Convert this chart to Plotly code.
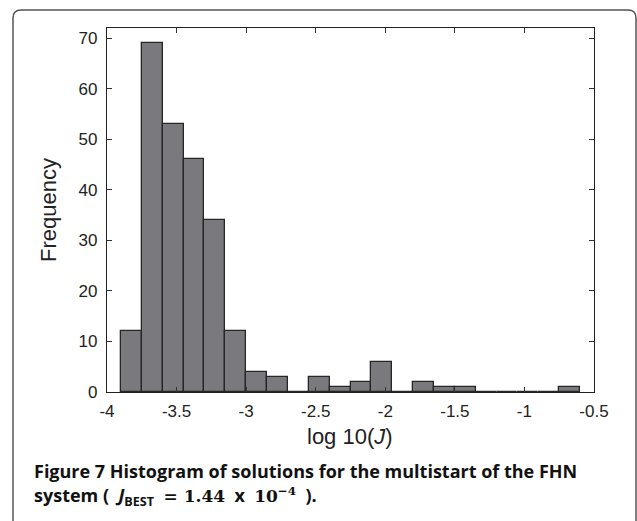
import plotly.graph_objects as go

# Histogram data (log10(J) bins of width 0.15 starting at -3.9)
bin_left = [-3.9, -3.75, -3.6, -3.45, -3.3, -3.15, -3.0, -2.85, -2.7, -2.55, -2.4,
            -2.25, -2.1, -1.95, -1.8, -1.65, -1.5, -1.35, -1.2, -1.05, -0.9, -0.75]
counts = [12, 69, 53, 46, 34, 12, 4, 3, 0, 3, 1, 2, 6, 0, 2, 1, 1, 0, 0, 0, 0, 1]
bin_width = 0.15
x_ticks = [-4, -3.5, -3, -2.5, -2, -1.5, -1, -0.5]
x_tick_text = ["-4", "-3.5", "-3", "-2.5", "-2", "-1.5", "-1", "-0.5"]
y_ticks = [0, 10, 20, 30, 40, 50, 60, 70]

W, H = 637, 521
L, R, T, B = 107, 43, 28, 129

def px(x):
    return (x - L) / (W - L - R)

def py(y):
    return (H - B - y) / (H - T - B)

centers = [b + bin_width / 2 for b in bin_left]

fig = go.Figure()
fig.add_trace(go.Bar(
    x=centers, y=counts, width=[bin_width] * len(centers),
    marker=dict(color="#7a7a7e", line=dict(color="#262626", width=1.3)),
    showlegend=False, hoverinfo="x+y",
))

axis_common = dict(
    showgrid=False, zeroline=False, showline=True, linecolor="#222", linewidth=1.3,
    mirror="ticks", ticks="inside", ticklen=5, tickwidth=1, tickcolor="#333",
    tickfont=dict(family="Liberation Sans, Arial, sans-serif", size=17, color="#222"),
)

fig.update_xaxes(range=[-4, -0.5], tickvals=x_ticks, ticktext=x_tick_text,
                 ticklabelstandoff=3, **axis_common)
fig.update_yaxes(range=[0, 72], tickvals=y_ticks, ticklabelstandoff=5, **axis_common)

# Rounded frame around figure (open at bottom)
x0, x1, y0, y1, r = px(13), px(636), py(10), py(540), 8
rx = r / (W - L - R)
ry = r / (H - T - B)
path = (f"M {x0},{y1} L {x0},{y0 - ry} Q {x0},{y0} {x0 + rx},{y0} "
        f"L {x1 - rx},{y0} Q {x1},{y0} {x1},{y0 - ry} L {x1},{y1}")
fig.add_shape(type="path", path=path, xref="paper", yref="paper",
              line=dict(color="#555", width=1.5))

NB = "\u00a0"
serif = "<span style='font-family:DejaVu Serif;font-size:17px'>"
caption2 = ("<b>system" + NB + "(" + NB + NB + "<i>J</i><sub>BEST</sub>" + NB + NB
            + serif + "=" + NB + "1.44</span>" + NB + NB + "x" + NB + NB
            + serif + "10<sup>−4</sup></span>" + NB + NB + ").</b>")

annotations = [
    dict(x=px(48), y=py(210), text="Frequency", textangle=-90,
         font=dict(family="Liberation Sans, Arial, sans-serif", size=22, color="#222"),
         xanchor="center", yanchor="middle"),
    dict(x=px(350), y=py(436), text="log 10(<i>J</i>)",
         font=dict(family="Liberation Sans, Arial, sans-serif", size=22, color="#222"),
         xanchor="center", yanchor="middle"),
    dict(x=px(32), y=py(471),
         text="<b>Figure 7 Histogram of solutions for the multistart of the FHN</b>",
         font=dict(family="Open Sans, sans-serif", size=18, color="#111"),
         xanchor="left", yanchor="middle"),
    dict(x=px(32), y=py(497), text=caption2,
         font=dict(family="Open Sans, sans-serif", size=18, color="#111"),
         xanchor="left", yanchor="middle"),
]
for a in annotations:
    a.update(xref="paper", yref="paper", showarrow=False)
fig.update_layout(
    annotations=annotations,
    width=W, height=H,
    margin=dict(l=L, r=R, t=T, b=B),
    paper_bgcolor="white", plot_bgcolor="white",
    bargap=0,
)

fig.write_html("out.html", config={"displayModeBar": False},
               post_script="document.body.style.margin='0';")
